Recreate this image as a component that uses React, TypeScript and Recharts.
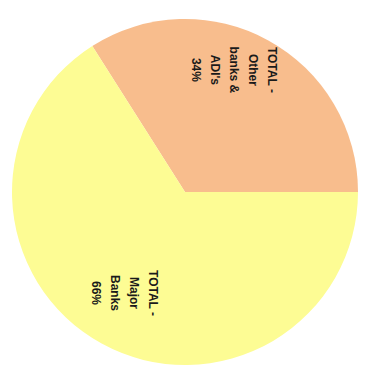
import React from 'react';
import { PieChart, Pie, Cell } from 'recharts';

const categories = ["TOTAL - Other banks & ADI's", 'TOTAL - Major Banks'];
const shares = [34, 66];
const labelLines = [
  ['TOTAL -', 'Other', 'banks &', "ADI's", '34%'],
  ['TOTAL -', 'Major', 'Banks', '66%'],
];
const colors = ['#F8BD8D', '#FDFC94'];

const data = categories.map((name, i) => ({ name, value: shares[i] }));

const RADIAN = Math.PI / 180;
const LINE_HEIGHT = 19;
// label placement: fraction of radius and small angle nudge per slice
const labelRadius = [0.76, 0.68];
const labelAngleShift = [7, -2];

// vertical text, rotated a quarter turn clockwise, sitting inside each slice
const renderLabel = (props: any) => {
  const { cx, cy, midAngle, outerRadius, index } = props;
  const r = outerRadius * labelRadius[index];
  const a = (midAngle + labelAngleShift[index]) * RADIAN;
  const x = cx + r * Math.cos(-a);
  const y = cy + r * Math.sin(-a);
  const lines = labelLines[index];
  const start = -((lines.length - 1) / 2) * LINE_HEIGHT;
  return (
    <text
      x={x}
      y={y}
      transform={`rotate(90, ${x}, ${y})`}
      textAnchor="middle"
      dominantBaseline="central"
      fill="#1a1a1a"
      fontSize={12}
      fontWeight="bold"
      fontFamily="'Liberation Sans', Arial, sans-serif"
    >
      {lines.map((line, i) => (
        <tspan key={i} x={x} dy={i === 0 ? start : LINE_HEIGHT}>
          {line}
        </tspan>
      ))}
    </text>
  );
};

const App = () => {
  return (
    <div style={{ position: 'absolute', left: 0, top: 0, background: '#fff' }}>
      <PieChart width={366} height={383} margin={{ top: 0, right: 0, bottom: 0, left: 0 }}>
        <Pie
          data={data}
          dataKey="value"
          nameKey="name"
          cx={185}
          cy={192}
          outerRadius={173}
          startAngle={0}
          endAngle={360}
          stroke="none"
          label={renderLabel}
          labelLine={false}
          isAnimationActive={false}
        >
          {data.map((entry, index) => (
            <Cell key={entry.name} fill={colors[index]} />
          ))}
        </Pie>
      </PieChart>
    </div>
  );
};

export default App;
